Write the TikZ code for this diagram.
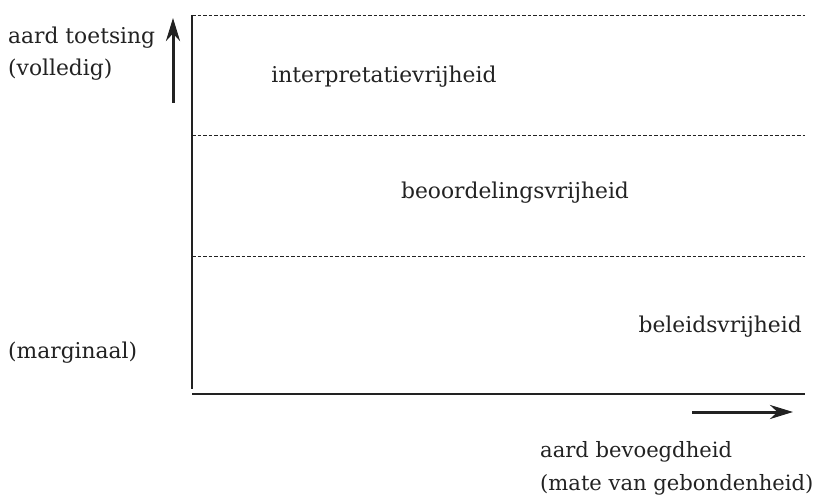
\documentclass[tikz,border=0pt]{standalone}
\usepackage{fontspec}
\setmainfont{DejaVu Serif}
\usetikzlibrary{arrows.meta}
\definecolor{ink}{HTML}{222222}
\tikzset{
  lbl/.style={inner sep=0pt, text=ink, font=\fontsize{21.8}{32}\selectfont},
  lblx/.style={lbl, font=\fontsize{21.1}{32}\selectfont},
  band/.style={draw=ink, dash pattern=on 3.5pt off 2pt, line width=0.9pt},
  axis/.style={draw=ink, line width=1.6pt},
  dir/.style={draw=ink, line width=3pt, -{Stealth[length=23pt,width=14pt]}}
}
\begin{document}
\begin{tikzpicture}[x=1pt,y=-1pt]
\useasboundingbox (0,0) rectangle (817,500);
% frame of the chart
\coordinate (tl) at (192,15);
\coordinate (tr) at (805,15);
\coordinate (ml) at (192,135);
\coordinate (mr) at (805,135);
\coordinate (ll) at (192,256);
\coordinate (lr) at (805,256);
\coordinate (vb) at (192,389);
\coordinate (bl) at (192,394);
\coordinate (br) at (805,394);
\draw[band] (tl) -- (tr);
\draw[band] (ml) -- (mr);
\draw[band] (ll) -- (lr);
\draw[axis] (tl) -- (vb);
\draw[axis] (bl) -- (br);
% direction arrows
\coordinate (ua) at (173,103);
\coordinate (ub) at (173,18);
\draw[dir] (ua) -- (ub);
\coordinate (ra) at (692,412);
\coordinate (rb) at (793,412);
\draw[dir] (ra) -- (rb);
% labels
\node[lbl, anchor=west] (yl) at (8,38) {aard toetsing};
\node[lbl, anchor=west] (yv) at (8,70) {(volledig)};
\node[lbl, anchor=west] (ym) at (8,353) {(marginaal)};
\node[lbl] (iv) at (384,77) {interpretatievrijheid};
\node[lbl] (bv) at (515,193) {beoordelingsvrijheid};
\node[lbl, anchor=east] (lv) at (802,327) {beleidsvrijheid};
\node[lblx, anchor=west] (xl) at (540,452) {aard bevoegdheid};
\node[lblx, anchor=west] (xm) at (540,485) {(mate van gebondenheid)};
\end{tikzpicture}
\end{document}
